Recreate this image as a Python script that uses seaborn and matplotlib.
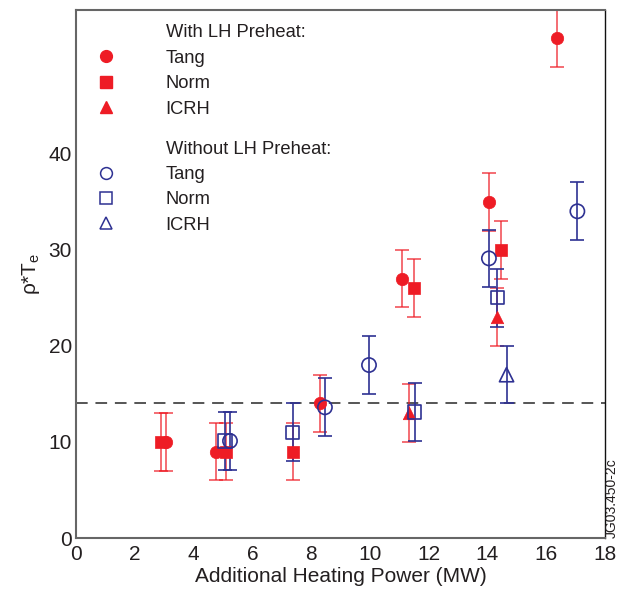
import matplotlib
matplotlib.use("Agg")
import matplotlib.pyplot as plt
from matplotlib.lines import Line2D
import seaborn as sns
import pandas as pd

sns.set_theme(style="white")
plt.rcParams["font.family"] = ["Liberation Sans", "DejaVu Sans"]
plt.rcParams["mathtext.fontset"] = "custom"
plt.rcParams["mathtext.rm"] = "Liberation Sans"
plt.rcParams["mathtext.it"] = "Liberation Sans:italic"

RED = "#ee1c25"
BLUE = "#2e3192"

# ---- data ----
with_tang_x = [3.05, 4.76, 8.3, 11.1, 14.05, 16.37]
with_tang_y = [10, 9, 14, 27, 35, 52]
with_norm_x = [2.9, 5.1, 7.37, 11.5, 14.47]
with_norm_y = [10, 9, 9, 26, 30]
with_icrh_x = [11.34, 14.33]
with_icrh_y = [13, 23]

wo_tang_x = [5.24, 8.47, 9.97, 14.05, 17.06]
wo_tang_y = [10.1, 13.6, 18, 29.1, 34]
wo_norm_x = [5.07, 7.37, 11.53, 14.33]
wo_norm_y = [10.1, 11, 13.1, 25]
wo_icrh_x = [14.65]
wo_icrh_y = [17]

err = 3.0
threshold = 14

rows = []
for grp, heat, xs, ys in [
    ("With", "Tang", with_tang_x, with_tang_y),
    ("With", "Norm", with_norm_x, with_norm_y),
    ("With", "ICRH", with_icrh_x, with_icrh_y),
    ("Without", "Tang", wo_tang_x, wo_tang_y),
    ("Without", "Norm", wo_norm_x, wo_norm_y),
    ("Without", "ICRH", wo_icrh_x, wo_icrh_y),
]:
    for x, y in zip(xs, ys):
        rows.append({"group": grp, "heating": heat, "power": x, "value": y, "err": err})
df = pd.DataFrame(rows)

markers = {"Tang": "o", "Norm": "s", "ICRH": "^"}
sizes = {"Tang": 80, "Norm": 66, "ICRH": 80}

fig = plt.figure(figsize=(6.18, 5.90), dpi=100)
ax = fig.add_axes([76 / 618, 52 / 590, 529 / 618, 528.5 / 590])

ax.axhline(threshold, color="#555555", lw=1.4, dashes=(6, 4), zorder=1)

# error bars
for grp, col, alpha in [("With", RED, 0.75), ("Without", BLUE, 1.0)]:
    sub = df[df.group == grp]
    ax.errorbar(sub.power, sub.value, yerr=sub.err, fmt="none", ecolor=col,
                elinewidth=1.2, capsize=5, capthick=1.2, alpha=alpha, zorder=2)

# markers
for heat in ["Tang", "Norm", "ICRH"]:
    sub = df[(df.group == "With") & (df.heating == heat)]
    sns.scatterplot(data=sub, x="power", y="value", ax=ax, marker=markers[heat],
                    s=sizes[heat], color=RED, edgecolor=RED, linewidth=0.5,
                    zorder=4, legend=False)
for heat in ["Tang", "Norm", "ICRH"]:
    sub = df[(df.group == "Without") & (df.heating == heat)]
    sns.scatterplot(data=sub, x="power", y="value", ax=ax, marker=markers[heat],
                    s=sizes[heat] + 25, facecolor="none", edgecolor=BLUE,
                    linewidth=1.2, zorder=5, legend=False)

ax.set_xlim(0, 18)
ax.set_ylim(0, 55)
ax.set_xticks(range(0, 19, 2))
ax.set_yticks([0, 10, 20, 30, 40])
ax.tick_params(direction="in", length=10, width=1.2, color="#555555",
               labelsize=15, labelcolor="#231f20")
ax.tick_params(axis="x", pad=5)
ax.tick_params(axis="y", pad=3)
for s in ["left", "top", "bottom"]:
    ax.spines[s].set_color("#666666")
    ax.spines[s].set_linewidth(1.5)
ax.spines["right"].set_color("#111111")
ax.spines["right"].set_linewidth(1.0)

ax.set_xlabel("Additional Heating Power (MW)", fontsize=15, color="#231f20", labelpad=2)
ax.set_ylabel(r"ρ*T$_\mathrm{e}$", fontsize=15, color="#231f20", labelpad=5)

def leg_handles(col, filled):
    hs = [Line2D([], [], linestyle="none", marker="")]
    for heat in ["Tang", "Norm", "ICRH"]:
        if filled:
            hs.append(Line2D([], [], linestyle="none", marker=markers[heat], markersize=8.5,
                             markerfacecolor=col, markeredgecolor=col))
        else:
            hs.append(Line2D([], [], linestyle="none", marker=markers[heat], markersize=8.5,
                             markerfacecolor="none", markeredgecolor=col, markeredgewidth=1.1))
    return hs

labels1 = ["With LH Preheat:", "Tang", "Norm", "ICRH"]
labels2 = ["Without LH Preheat:", "Tang", "Norm", "ICRH"]
common = dict(loc="upper left", frameon=False, fontsize=13.2, handlelength=2.0,
              handletextpad=2.25, labelspacing=0.46, borderpad=0, borderaxespad=0,
              labelcolor="#231f20")
leg1 = ax.legend(leg_handles(RED, True), labels1, bbox_to_anchor=(0.022, 0.972), **common)
ax.add_artist(leg1)
leg2 = ax.legend(leg_handles(BLUE, False), labels2, bbox_to_anchor=(0.022, 0.752), **common)

fig.text(612 / 618, 52 / 590, "JG03.450-2c", rotation=90, fontsize=10,
         ha="center", va="bottom", color="#231f20")

fig.savefig("out.png", dpi=100)
